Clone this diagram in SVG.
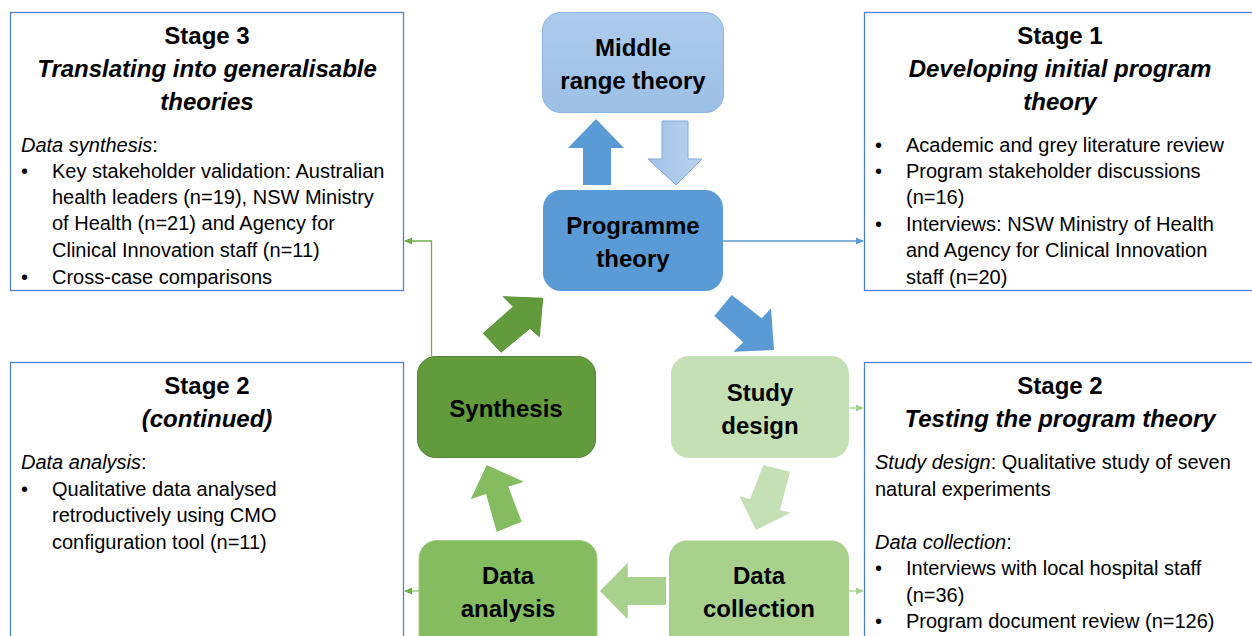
<svg xmlns="http://www.w3.org/2000/svg" width="1252" height="636" viewBox="0 0 1252 636">
<style>
.stage{fill:#fff;stroke:#4f81d0;stroke-width:1.3}
.t{font-family:"Liberation Sans",Arial,sans-serif;fill:#000}
.h{font-size:24px;font-weight:bold;text-anchor:middle}
.hi{font-size:24px;font-weight:bold;font-style:italic;text-anchor:middle}
.b{font-size:20px}
.i{font-style:italic}
.n{font-family:"Liberation Sans",Arial,sans-serif;font-size:24px;font-weight:bold;text-anchor:middle;fill:#000}
.conn{fill:none;stroke-width:1.3}
</style>
<defs>
<linearGradient id="mrt" x1="0" y1="0" x2="0" y2="1">
<stop offset="0" stop-color="#adcbec"/>
<stop offset="1" stop-color="#9cbfe6"/>
</linearGradient>
<linearGradient id="dwn" x1="0" y1="0" x2="1" y2="0">
<stop offset="0" stop-color="#a2c2ea"/>
<stop offset="1" stop-color="#b8d1ee"/>
</linearGradient>
<marker id="mb" markerWidth="8" markerHeight="8" refX="7" refY="4" orient="auto" markerUnits="userSpaceOnUse"><path d="M0,0.5 L8,4 L0,7.5 Z" fill="#5b9bd5"/></marker>
<marker id="mg" markerWidth="8" markerHeight="8" refX="7" refY="4" orient="auto" markerUnits="userSpaceOnUse"><path d="M0,0.5 L8,4 L0,7.5 Z" fill="#70ad47"/></marker>
<marker id="ml" markerWidth="8" markerHeight="8" refX="7" refY="4" orient="auto" markerUnits="userSpaceOnUse"><path d="M0,0.5 L8,4 L0,7.5 Z" fill="#a9d18e"/></marker>
</defs>

<g id="connectors">
<path class="conn" d="M723,241 H863" stroke="#5b9bd5" marker-end="url(#mb)"/>
<path class="conn" d="M431.5,356 V241 H405" stroke="#70ad47" marker-end="url(#mg)"/>
<path class="conn" d="M849,408 H863" stroke="#a9d18e" marker-end="url(#ml)"/>
<path class="conn" d="M849,591 H863" stroke="#a9d18e" marker-end="url(#ml)"/>
<path class="conn" d="M419,591 H405" stroke="#8fc46c" marker-end="url(#mg)"/>
<polygon points="583,185 611,185 611,148 624,148 596,119 568,148 583,148" fill="#5b9bd5"/>
<polygon points="662,121 688,121 688,159 702,159 676,185 648,159 662,159" fill="url(#dwn)" stroke="#80a8da" stroke-width="1"/>
<polygon points="731.7,295 761.7,318.3 771,308.3 774,350 733.3,351.7 743.3,342.3 714.3,316" fill="#5b9bd5"/>
<polygon points="483.3,333.3 513.3,306.7 503.3,296.7 542.7,298.3 539.3,336.7 530,328.3 501,352.3" fill="#629b3c" stroke="#5a8f36" stroke-width="1"/>
<polygon points="763.3,465 790,471.7 780,510 790.7,512.7 756,530 739.3,496 750,499.3" fill="#c5e0b4"/>
<polygon points="666,577 627.7,577 627.7,562.7 600,591 627.7,619.3 627.7,605 666,605" fill="#a9d18e"/>
<polygon points="496.7,531.7 521.7,521.7 508.3,486.7 524,481.7 486.7,465 470.7,499.3 486,494" fill="#84bc5f"/>
</g>

<g id="stage3">
<rect class="stage" x="10.5" y="12.5" width="393" height="278"/>
<text class="t h" x="207" y="44">Stage 3</text>
<text class="t hi" x="207" y="77">Translating into generalisable</text>
<text class="t hi" x="207" y="110">theories</text>
<text class="t b" x="21" y="152"><tspan class="i">Data synthesis</tspan>:</text>
<text class="t b" x="21" y="178">•</text>
<text class="t b" x="52" y="178">Key stakeholder validation: Australian</text>
<text class="t b" x="52" y="204">health leaders (n=19), NSW Ministry</text>
<text class="t b" x="52" y="230">of Health (n=21) and Agency for</text>
<text class="t b" x="52" y="257">Clinical Innovation staff (n=11)</text>
<text class="t b" x="21" y="284">•</text>
<text class="t b" x="52" y="284">Cross-case comparisons</text>
</g>

<g id="stage1">
<rect class="stage" x="864.5" y="12.5" width="400" height="278"/>
<text class="t h" x="1060" y="44">Stage 1</text>
<text class="t hi" x="1060" y="77">Developing initial program</text>
<text class="t hi" x="1060" y="110">theory</text>
<text class="t b" x="875" y="152">•</text>
<text class="t b" x="906" y="152">Academic and grey literature review</text>
<text class="t b" x="875" y="178">•</text>
<text class="t b" x="906" y="178">Program stakeholder discussions</text>
<text class="t b" x="906" y="204">(n=16)</text>
<text class="t b" x="875" y="231">•</text>
<text class="t b" x="906" y="231">Interviews: NSW Ministry of Health</text>
<text class="t b" x="906" y="257">and Agency for Clinical Innovation</text>
<text class="t b" x="906" y="284">staff (n=20)</text>
</g>

<g id="stage2-right">
<rect class="stage" x="864.5" y="362.5" width="400" height="290"/>
<text class="t h" x="1060" y="394">Stage 2</text>
<text class="t hi" x="1060" y="427">Testing the program theory</text>
<text class="t b" x="875" y="469"><tspan class="i">Study design</tspan>: Qualitative study of seven</text>
<text class="t b" x="875" y="496">natural experiments</text>
<text class="t b" x="875" y="549"><tspan class="i">Data collection</tspan>:</text>
<text class="t b" x="875" y="575">•</text>
<text class="t b" x="906" y="575">Interviews with local hospital staff</text>
<text class="t b" x="906" y="602">(n=36)</text>
<text class="t b" x="875" y="628">•</text>
<text class="t b" x="906" y="628">Program document review (n=126)</text>
</g>

<g id="stage2-left">
<rect class="stage" x="10.5" y="362.5" width="393" height="290"/>
<text class="t h" x="207" y="394">Stage 2</text>
<text class="t hi" x="207" y="427">(continued)</text>
<text class="t b" x="21" y="469"><tspan class="i">Data analysis</tspan>:</text>
<text class="t b" x="21" y="496">•</text>
<text class="t b" x="52" y="496">Qualitative data analysed</text>
<text class="t b" x="52" y="522">retroductively using CMO</text>
<text class="t b" x="52" y="549">configuration tool (n=11)</text>
</g>

<g id="middle-range-theory">
<rect x="542.5" y="12.5" width="181" height="100" rx="18" fill="url(#mrt)" stroke="#8db3e2" stroke-width="1"/>
<text class="n" x="633" y="56">Middle</text>
<text class="n" x="633" y="89">range theory</text>
</g>

<g id="programme-theory">
<rect x="543" y="190" width="180" height="101" rx="18" fill="#5b9bd5"/>
<text class="n" x="633" y="234">Programme</text>
<text class="n" x="633" y="267">theory</text>
</g>

<g id="synthesis">
<rect x="417.5" y="356.5" width="178" height="101" rx="18" fill="#629b3c" stroke="#548235" stroke-width="1"/>
<text class="n" x="506" y="417">Synthesis</text>
</g>

<g id="study-design">
<rect x="671" y="356" width="178" height="102" rx="18" fill="#c5e0b4"/>
<text class="n" x="760" y="401">Study</text>
<text class="n" x="760" y="434">design</text>
</g>

<g id="data-collection">
<rect x="669" y="540.5" width="180" height="120" rx="18" fill="#a9d18e"/>
<text class="n" x="759" y="584">Data</text>
<text class="n" x="759" y="617">collection</text>
</g>

<g id="data-analysis">
<rect x="419" y="540.5" width="178" height="120" rx="18" fill="#84bc5f" stroke="#9fcd80" stroke-width="1"/>
<text class="n" x="508" y="584">Data</text>
<text class="n" x="508" y="617">analysis</text>
</g>
</svg>
